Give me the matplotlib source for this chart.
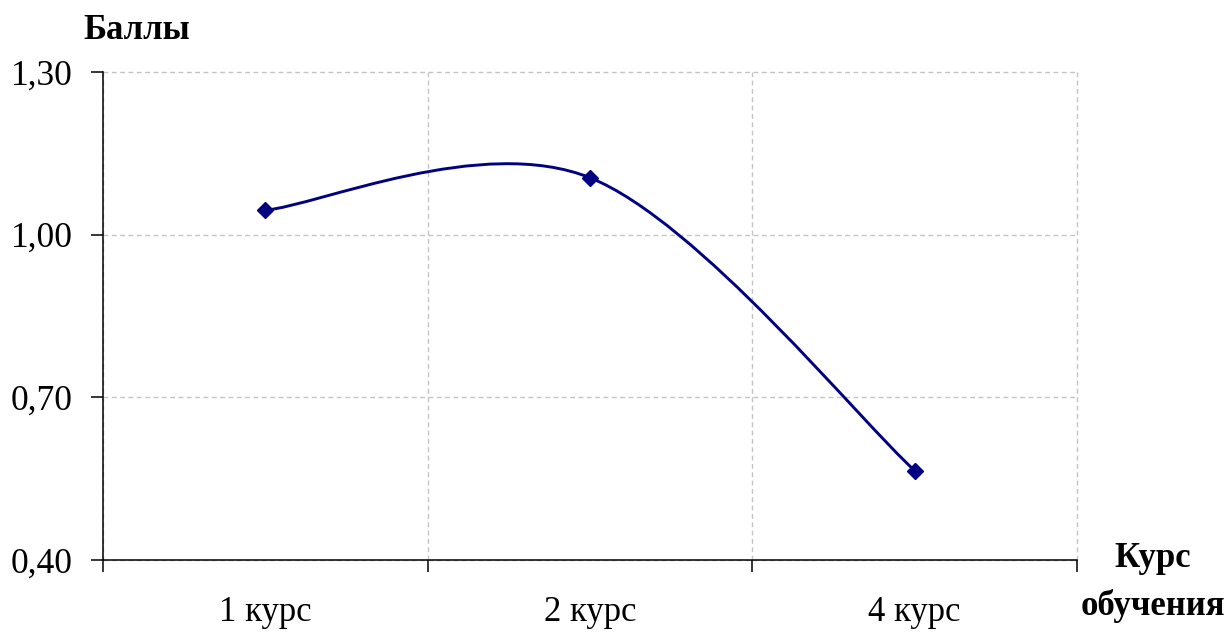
import numpy as np
import matplotlib
matplotlib.use("Agg")
import matplotlib.pyplot as plt
from matplotlib.path import Path
from matplotlib.patches import PathPatch

categories = ["1 курс", "2 курс", "4 курс"]
values = [1.045, 1.105, 0.565]
y_ticks = [0.40, 0.70, 1.00, 1.30]
y_tick_labels = ["0,40", "0,70", "1,00", "1,30"]
y_title = "Баллы"
x_title = ["Курс", "обучения"]

plt.rcParams['font.family'] = ['Liberation Serif', 'DejaVu Serif']

NAVY = "#000080"

fig = plt.figure(figsize=(12.29, 6.32), dpi=100)
ax = fig.add_axes([103/1229, 1-560/632, (1077-103)/1229, (560-72)/632])

x = np.arange(len(values), dtype=float)
y = np.array(values, dtype=float)

# Excel-like smoothed curve (Catmull-Rom -> cubic Bezier, f = 1/6)
P = np.column_stack([x, y])
verts = [P[0]]
codes = [Path.MOVETO]
n = len(P)
for i in range(n - 1):
    p0 = P[i - 1] if i > 0 else P[i]
    p1 = P[i]
    p2 = P[i + 1]
    p3 = P[i + 2] if i + 2 < n else P[i + 1]
    c1 = p1 + (p2 - p0) / 6.0
    c2 = p2 - (p3 - p1) / 6.0
    verts += [c1, c2, p2]
    codes += [Path.CURVE4] * 3
curve = PathPatch(Path(verts, codes), facecolor="none", edgecolor=NAVY,
                  lw=2.1, zorder=3, capstyle="round", joinstyle="round")
ax.add_patch(curve)
ax.plot(x, y, linestyle="none", marker="D", markersize=8, color=NAVY,
        markeredgecolor=NAVY, markeredgewidth=1, zorder=4, clip_on=False)

ax.set_xlim(-0.5, len(values) - 0.5)
ax.set_ylim(y_ticks[0], y_ticks[-1])

# category boundaries as major ticks, labels as minor ticks at centers
ax.set_xticks(np.arange(-0.5, len(values)))
ax.set_xticklabels([])
ax.set_xticks(x, minor=True)
ax.set_xticklabels(categories, minor=True)
ax.tick_params(axis="x", which="major", direction="out", length=8.6,
               width=1.1, color="black")
ax.tick_params(axis="x", which="minor", length=0, pad=26, labelsize=25)

ax.set_yticks(y_ticks)
ax.set_yticklabels(y_tick_labels)
ax.tick_params(axis="y", which="major", direction="out", length=8.6,
               width=1.1, color="black", pad=13, labelsize=25.5)

for s in ["top", "right"]:
    ax.spines[s].set_visible(False)
for s in ["left", "bottom"]:
    ax.spines[s].set_linewidth(1.1)
    ax.spines[s].set_color("black")

ax.grid(True, which="major", axis="both", color="#c4c4c4", linestyle=(0, (3.5, 2.5)),
        linewidth=1.0)
ax.set_axisbelow(True)
for gl in ax.get_xgridlines() + ax.get_ygridlines():
    gl.set_clip_on(False)

fig.text(83/1229, 1-39/632, y_title, fontsize=25, fontweight="bold",
         ha="left", va="baseline")
fig.text(1153/1229, 1-567/632, x_title[0], fontsize=25, fontweight="bold",
         ha="center", va="baseline")
fig.text(1153/1229, 1-615/632, x_title[1], fontsize=25, fontweight="bold",
         ha="center", va="baseline")

fig.savefig("out.png", dpi=100, facecolor="white")
